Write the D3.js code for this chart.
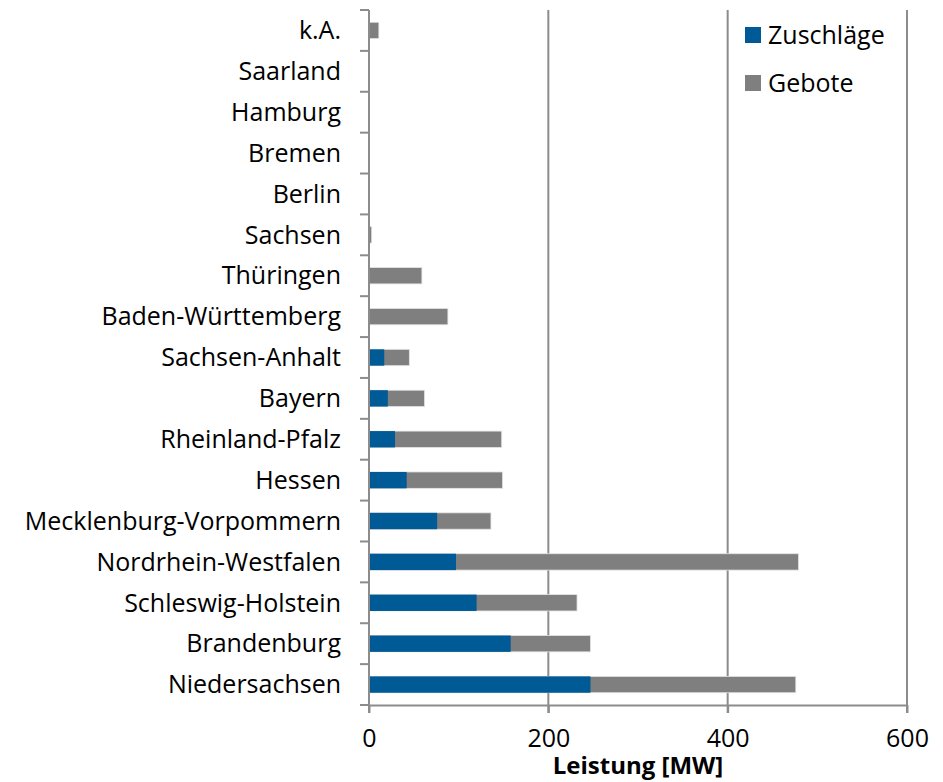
<!DOCTYPE html>
<html>
<head>
<meta charset="utf-8">
<script src="https://cdn.jsdelivr.net/npm/d3@7"></script>
<style>
  body { margin: 0; background: #fff; }
  svg text { font-family: "Open Sans", "Noto Sans", sans-serif; fill: #000; }
</style>
</head>
<body>
<svg id="chart"></svg>
<script>
// categories, top to bottom
const states = ["k.A.", "Saarland", "Hamburg", "Bremen", "Berlin", "Sachsen", "Thüringen",
  "Baden-Württemberg", "Sachsen-Anhalt", "Bayern", "Rheinland-Pfalz", "Hessen",
  "Mecklenburg-Vorpommern", "Nordrhein-Westfalen", "Schleswig-Holstein", "Brandenburg", "Niedersachsen"];
// Gebote (total bid volume, MW)
const gebote = [11, 0, 0, 0, 0, 3, 59, 88, 45, 62, 148, 149, 136, 479, 232, 247, 476];
// Zuschläge (awarded volume, MW)
const zuschlaege = [0, 0, 0, 0, 0, 0, 0, 0, 17, 21, 29, 42, 76, 97, 120, 158, 247];
const xTicks = [0, 200, 400, 600];

const cfg = {
  width: 943, height: 782,
  margin: {top: 10, right: 36, bottom: 77, left: 369}
};
const innerW = cfg.width - cfg.margin.left - cfg.margin.right;
const innerH = cfg.height - cfg.margin.top - cfg.margin.bottom;

const svg = d3.select("#chart").attr("width", cfg.width).attr("height", cfg.height);
const g = svg.append("g").attr("transform", `translate(${cfg.margin.left},${cfg.margin.top})`);

const x = d3.scaleLinear().domain([0, 600]).range([0, innerW]);
const y = d3.scaleBand().domain(states).range([0, innerH]).paddingInner(0.6).paddingOuter(0.3);

const axisCol = "#8c8c8c";

// vertical gridlines
g.selectAll(".grid").data(xTicks.slice(1)).enter().append("line")
  .attr("x1", d => x(d)).attr("x2", d => x(d))
  .attr("y1", 0).attr("y2", innerH + 8)
  .attr("stroke", axisCol).attr("stroke-width", 2);

// Gebote bars (full length)
g.selectAll(".geb").data(states).enter().append("rect")
  .attr("x", x(0))
  .attr("y", d => y(d))
  .attr("width", (d, i) => x(gebote[i]) - x(0))
  .attr("height", y.bandwidth())
  .attr("fill", "#7f7f7f")
  .attr("stroke", "#e4e4e4").attr("stroke-width", 0.8);

// Zuschläge bars overlaid
g.selectAll(".zus").data(states).enter().append("rect")
  .attr("x", x(0))
  .attr("y", d => y(d))
  .attr("width", (d, i) => x(zuschlaege[i]) - x(0))
  .attr("height", y.bandwidth())
  .attr("fill", "#005a96");

// x axis
const xAxis = g.append("g").attr("transform", `translate(0,${innerH})`)
  .call(d3.axisBottom(x).tickValues(xTicks).tickSize(8).tickSizeOuter(0).tickPadding(16));
xAxis.select(".domain").attr("stroke", axisCol).attr("stroke-width", 2);
xAxis.selectAll(".tick line").attr("stroke", axisCol).attr("stroke-width", 2);
xAxis.selectAll(".tick text").attr("font-size", 25).attr("font-family", "Open Sans, sans-serif")
  .attr("fill", "#000");

// extend x axis line to the left tick
g.append("line").attr("x1", -9).attr("x2", 0).attr("y1", innerH).attr("y2", innerH)
  .attr("stroke", axisCol).attr("stroke-width", 2);

// y axis line
g.append("line").attr("x1", 0).attr("x2", 0).attr("y1", 0).attr("y2", innerH + 8)
  .attr("stroke", axisCol).attr("stroke-width", 2);

// y category separator ticks
const step = y.step();
g.selectAll(".ytick").data(d3.range(states.length)).enter().append("line")
  .attr("x1", -9).attr("x2", 0)
  .attr("y1", d => d * step).attr("y2", d => d * step)
  .attr("stroke", axisCol).attr("stroke-width", 2);

// y labels
g.selectAll(".ylab").data(states).enter().append("text")
  .attr("x", -28)
  .attr("y", d => y(d) + y.bandwidth() / 2)
  .attr("dy", "0.35em")
  .attr("text-anchor", "end")
  .attr("font-size", 25)
  .text(d => d);

// axis title
svg.append("text")
  .attr("x", 638)
  .attr("y", 774)
  .attr("text-anchor", "middle")
  .attr("font-size", 24)
  .attr("font-weight", "bold")
  .text("Leistung [MW]");

// legend
const legend = svg.append("g").attr("transform", "translate(745,35)");
const legItems = [{name: "Zuschläge", col: "#005a96"}, {name: "Gebote", col: "#7f7f7f"}];
legItems.forEach((d, i) => {
  const row = legend.append("g").attr("transform", `translate(0,${i * 48})`);
  row.append("rect").attr("x", 0).attr("y", -8).attr("width", 16).attr("height", 16).attr("fill", d.col);
  row.append("text").attr("x", 23).attr("y", 0).attr("dy", "0.35em").attr("font-size", 25).text(d.name);
});
</script>
</body>
</html>
